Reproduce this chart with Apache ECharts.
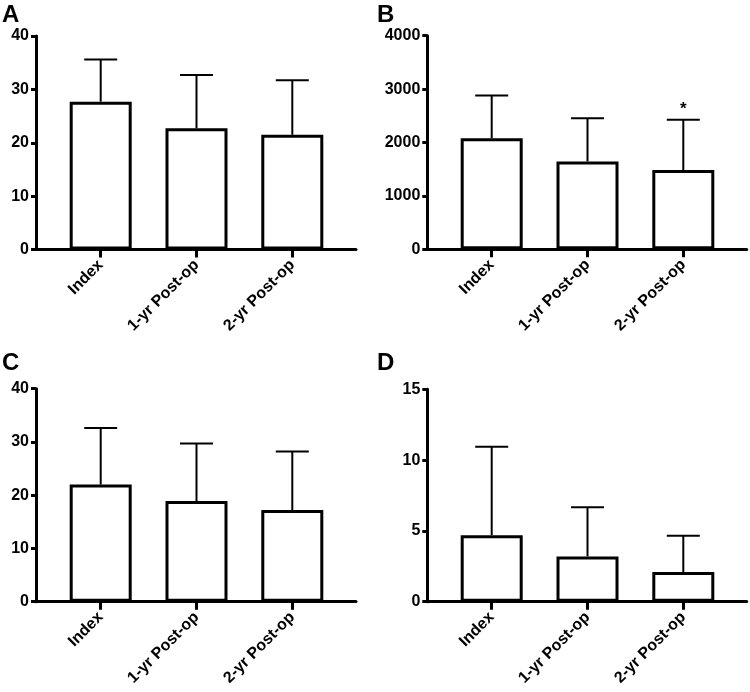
<!DOCTYPE html>
<html>
<head>
<meta charset="utf-8">
<script src="https://cdn.jsdelivr.net/npm/echarts@6/dist/echarts.min.js"></script>
<style>
html,body{margin:0;padding:0;background:#fff;}
#chart{width:750px;height:692px;}
</style>
</head>
<body>
<div id="chart"></div>
<script>
// ---- data ----
var categories = ['Index', '1-yr Post-op', '2-yr Post-op'];

var meanA = [27.7, 22.7, 21.5];
var sdA   = [7.9, 10.0, 10.2];

var meanB = [2080, 1645, 1485];
var sdB   = [800, 810, 940];
var sigB  = ['', '', '*'];

var meanC = [22.0, 18.9, 17.2];
var sdC   = [10.6, 10.8, 11.0];

var meanD = [4.7, 3.2, 2.1];
var sdD   = [6.25, 3.47, 2.56];

var yTicksA = {min: 0, max: 40, interval: 10};
var yTicksB = {min: 0, max: 4000, interval: 1000};
var yTicksC = {min: 0, max: 40, interval: 10};
var yTicksD = {min: 0, max: 15, interval: 5};

var panelLetters = ['A', 'B', 'C', 'D'];

// ---- layout ----
var FONT = '"Liberation Sans", Arial, sans-serif';
var panels = [
  {letter: panelLetters[0], mean: meanA, sd: sdA, sig: null, ticks: yTicksA,
   yx: 36, top: 36, bottom: 249.5, axisEnd: 356, catLeft: 52.8, catRight: 340.2, lx: 2, ly: 3},
  {letter: panelLetters[1], mean: meanB, sd: sdB, sig: sigB, ticks: yTicksB,
   yx: 427.3, top: 35.7, bottom: 249.3, axisEnd: 746.7, catLeft: 443.8, catRight: 731.2, lx: 377, ly: 3},
  {letter: panelLetters[2], mean: meanC, sd: sdC, sig: null, ticks: yTicksC,
   yx: 36, top: 388.7, bottom: 601.7, axisEnd: 356, catLeft: 52.8, catRight: 340.2, lx: 2, ly: 351},
  {letter: panelLetters[3], mean: meanD, sd: sdD, sig: null, ticks: yTicksD,
   yx: 427.3, top: 389.3, bottom: 601.7, axisEnd: 746.7, catLeft: 443.8, catRight: 731.2, lx: 377, ly: 351}
];

var grids = [], xAxes = [], yAxes = [], series = [], graphics = [];

panels.forEach(function (p, i) {
  var h = p.bottom - p.top;
  grids.push({left: p.yx, top: p.top, width: p.axisEnd - p.yx, height: h});
  grids.push({left: p.catLeft, top: p.top, width: p.catRight - p.catLeft, height: h});

  xAxes.push({
    gridIndex: 2 * i, type: 'value', min: 0, max: 1,
    axisLine: {show: true, onZero: false, lineStyle: {color: '#000', width: 3}},
    axisTick: {show: false}, axisLabel: {show: false}, splitLine: {show: false}
  });
  yAxes.push({
    gridIndex: 2 * i, type: 'value', min: p.ticks.min, max: p.ticks.max, interval: p.ticks.interval,
    axisLine: {show: true, onZero: false, lineStyle: {color: '#000', width: 3}},
    axisTick: {show: true, length: 5, lineStyle: {color: '#000', width: 3}},
    axisLabel: {color: '#000', fontFamily: FONT, fontWeight: 'bold', fontSize: 16, margin: 7,
                formatter: function (v) { return String(v); }},
    splitLine: {show: false}
  });
  xAxes.push({
    gridIndex: 2 * i + 1, type: 'category', data: categories,
    axisLine: {show: false},
    axisTick: {show: true, alignWithLabel: true, length: 8, lineStyle: {color: '#000', width: 3}},
    axisLabel: {color: '#000', fontFamily: FONT, fontWeight: 'bold', fontSize: 16,
                rotate: 45, margin: 13, interval: 0}
  });
  yAxes.push({
    gridIndex: 2 * i + 1, type: 'value', min: p.ticks.min, max: p.ticks.max, interval: p.ticks.interval,
    show: false
  });

  series.push({
    type: 'bar', xAxisIndex: 2 * i + 1, yAxisIndex: 2 * i + 1,
    data: p.mean, barWidth: 62,
    itemStyle: {color: '#fff', borderColor: '#000', borderWidth: 3},
    silent: true, animation: false, z: 2
  });

  var errData = p.mean.map(function (m, k) { return [k, m, m + p.sd[k], p.sig ? p.sig[k] : '']; });
  series.push({
    type: 'custom', xAxisIndex: 2 * i + 1, yAxisIndex: 2 * i + 1,
    data: errData, z: 3, silent: true, animation: false,
    renderItem: function (params, api) {
      var lo = api.coord([api.value(0), api.value(1)]);
      var hi = api.coord([api.value(0), api.value(2)]);
      var cap = 16.5;
      var children = [
        {type: 'line', shape: {x1: lo[0], y1: lo[1], x2: hi[0], y2: hi[1]},
         style: {stroke: '#000', lineWidth: 2}},
        {type: 'line', shape: {x1: hi[0] - cap, y1: hi[1], x2: hi[0] + cap, y2: hi[1]},
         style: {stroke: '#000', lineWidth: 2}}
      ];
      var s = errData[params.dataIndex][3];
      if (s) {
        children.push({type: 'text', x: hi[0], y: hi[1] - 2,
          style: {text: s, fill: '#000', font: 'bold 17px ' + FONT, align: 'center', verticalAlign: 'bottom'}});
      }
      return {type: 'group', children: children};
    }
  });

  graphics.push({
    type: 'text', left: p.lx, top: p.ly,
    style: {text: p.letter, fill: '#000', font: 'bold 24px ' + FONT}
  });
});

var chart = echarts.init(document.getElementById('chart'), null, {renderer: 'canvas'});
chart.setOption({
  animation: false,
  backgroundColor: '#fff',
  grid: grids,
  xAxis: xAxes,
  yAxis: yAxes,
  series: series,
  graphic: graphics
});
</script>
</body>
</html>
